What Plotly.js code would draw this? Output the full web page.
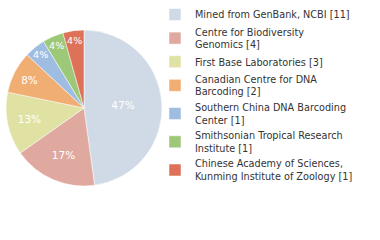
<!DOCTYPE html>
<html><head><meta charset="utf-8">
<script src="https://cdn.plot.ly/plotly-3.0.1.min.js"></script>
<style>body{margin:0;padding:0;background:#fff}#c{width:380px;height:240px}</style>
</head><body><div id="c"></div>
<script>
var labels = ["Mined from GenBank, NCBI [11]", "Centre for Biodiversity<br>Genomics [4]", "First Base Laboratories [3]", "Canadian Centre for DNA<br>Barcoding [2]", "Southern China DNA Barcoding<br>Center [1]", "Smithsonian Tropical Research<br>Institute [1]", "Chinese Academy of Sciences,<br>Kunming Institute of Zoology [1]"];
var values = [11, 4, 3, 2, 1, 1, 1];
var colors = ["#cfdae6", "#e0a9a0", "#dfe2a3", "#f0ae72", "#9ebde0", "#9dc878", "#dd7259"];
var total = values.reduce(function(a,b){return a+b;},0);
var pctText = values.map(function(v){return Math.floor(v/total*100) + "%";});
var data = [{
  type: "pie", labels: labels, values: values, sort: false, direction: "clockwise", rotation: 0,
  marker: {colors: colors, line: {color: "#ffffff", width: 0.5}},
  text: pctText, textinfo: "text", textposition: "inside", insidetextorientation: "horizontal",
  insidetextfont: {color: "#ffffff", size: 10.5, family: "DejaVu Sans"},
  domain: {x: [6/380, 162/380], y: [54/240, 210/240]},
  hoverinfo: "none"
}];
var layout = {
  width: 380, height: 240, margin: {l:0, r:0, t:0, b:0},
  paper_bgcolor: "#fff",
  showlegend: true,
  legend: {x: 155/380, y: 1, xanchor: "left", yanchor: "top", font: {family: "DejaVu Sans", size: 9.7, color: "#333"}, itemwidth: 30, tracegroupgap: 0, bgcolor: "rgba(0,0,0,0)"}
};
Plotly.newPlot("c", data, layout, {staticPlot: true, displayModeBar: false});
</script></body></html>
